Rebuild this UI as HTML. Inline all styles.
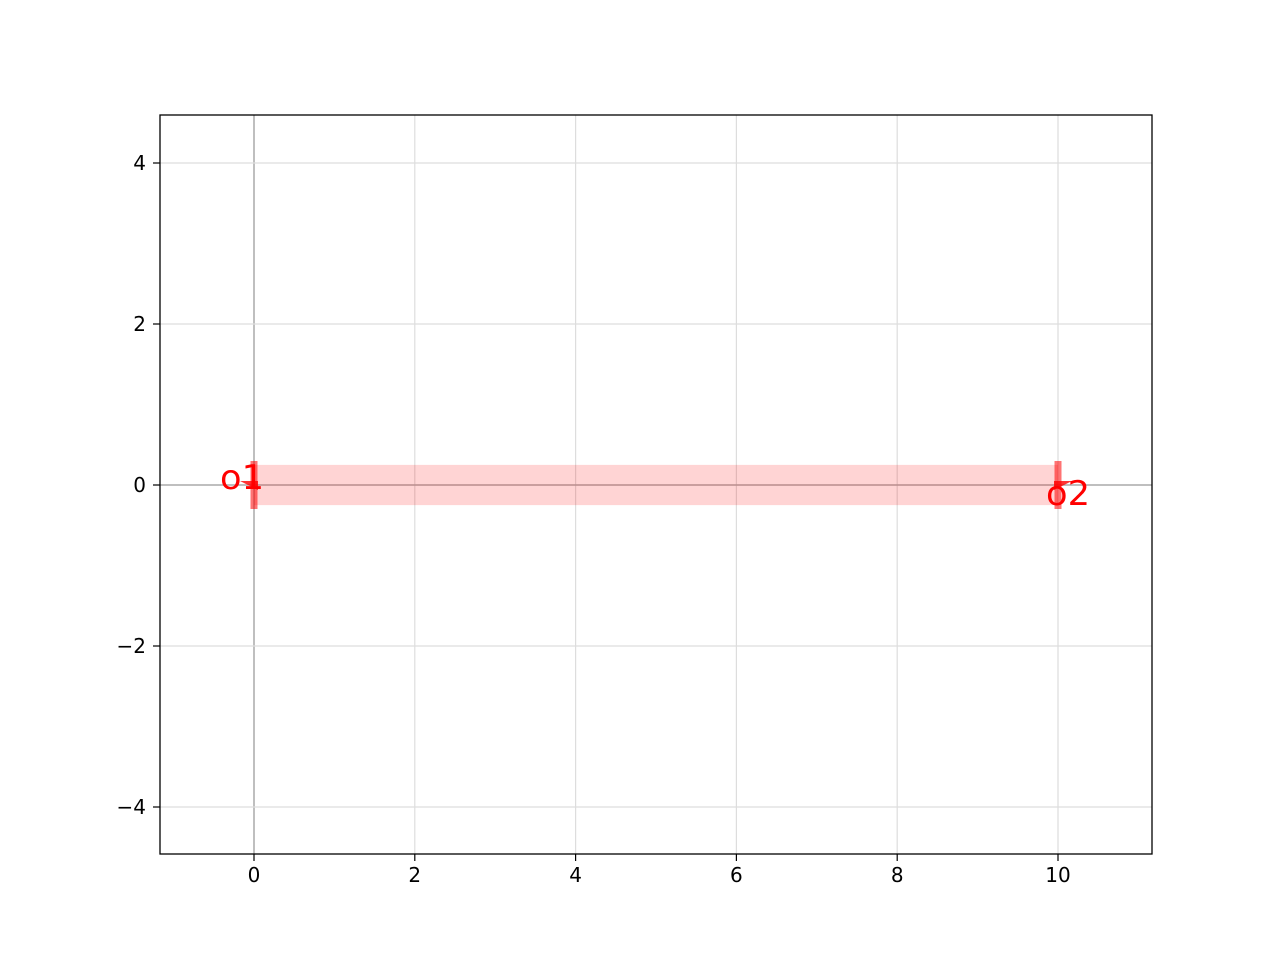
<!DOCTYPE html>
<html><head><meta charset="utf-8"><style>body{margin:0;background:#fff}svg{display:block}text{font-family:"DejaVu Sans","Liberation Sans",sans-serif}</style></head>
<body>
<svg id="chart" width="1280" height="960" xmlns="http://www.w3.org/2000/svg">
<rect width="1280" height="960" fill="#fff"/>
<g id="grid"></g>
<g id="marks"></g>
<rect x="160" y="115" width="992" height="739" fill="none" stroke="#000" stroke-width="1.3"/>
<g id="ticks"></g>
</svg>
<script>
const xTicks=[0,2,4,6,8,10];
const yTicks=[-4,-2,0,2,4];
const yTickLabels=["\u22124","\u22122","0","2","4"];
const rectX=[0,10];
const rectY=[-0.25,0.25];
const portX=[0,10];
const portY=[0,0];
const portNames=["o1","o2"];
const NS="http://www.w3.org/2000/svg";
const sx=v=>254+v*80.4, sy=v=>485-v*80.5;
function mk(tag,attrs,parent){const e=document.createElementNS(NS,tag);for(const k in attrs)e.setAttribute(k,attrs[k]);parent.appendChild(e);return e;}
const grid=document.getElementById('grid'),marks=document.getElementById('marks'),ticks=document.getElementById('ticks');
xTicks.forEach(t=>{const l=mk('line',{x1:sx(t),x2:sx(t),y1:115,y2:854,stroke:t===0?'#aaa':'#ddd','stroke-width':t===0?1.5:1.2},grid);


const k=mk('line',{x1:sx(t),x2:sx(t),y1:854,y2:861,stroke:'#000','stroke-width':1.2},ticks);


const tx=mk('text',{x:sx(t),y:882,'text-anchor':'middle','font-size':20},ticks);tx.textContent=t;

});
yTicks.forEach((t,i)=>{const l=mk('line',{x1:160,x2:1152,y1:sy(t),y2:sy(t),stroke:t===0?'#aaa':'#ddd','stroke-width':t===0?1.5:1.2},grid);


const k=mk('line',{x1:153,x2:160,y1:sy(t),y2:sy(t),stroke:'#000','stroke-width':1.2},ticks);


const tx=mk('text',{x:146,y:sy(t)+7,'text-anchor':'end','font-size':20},ticks);tx.textContent=yTickLabels[i];

});
const r=mk('rect',{x:sx(rectX[0]),y:sy(rectY[1]),width:sx(rectX[1])-sx(rectX[0]),height:sy(rectY[0])-sy(rectY[1]),fill:'rgba(255,0,0,0.17)'},marks);


portX.forEach((p,i)=>{const x=sx(p),y=sy(portY[i]);
const b=mk('rect',{x:x-3.5,y:y-24,width:7,height:48,fill:'rgba(255,0,0,0.55)'},marks);


const d=i===0?-1:1;
const a=mk('polygon',{points:`${x-4*d},${y-4} ${x+14*d},${y-4} ${x-4*d},${y+5}`,fill:'rgba(255,0,0,0.8)'},marks);


const t=mk('text',{x:i===0?x-34:x-12,y:i===0?y+4:y+20,fill:'#f00','font-size':34,'textLength':44,'lengthAdjust':'spacingAndGlyphs'},marks);t.textContent=portNames[i];

});
</script>
</body></html>
